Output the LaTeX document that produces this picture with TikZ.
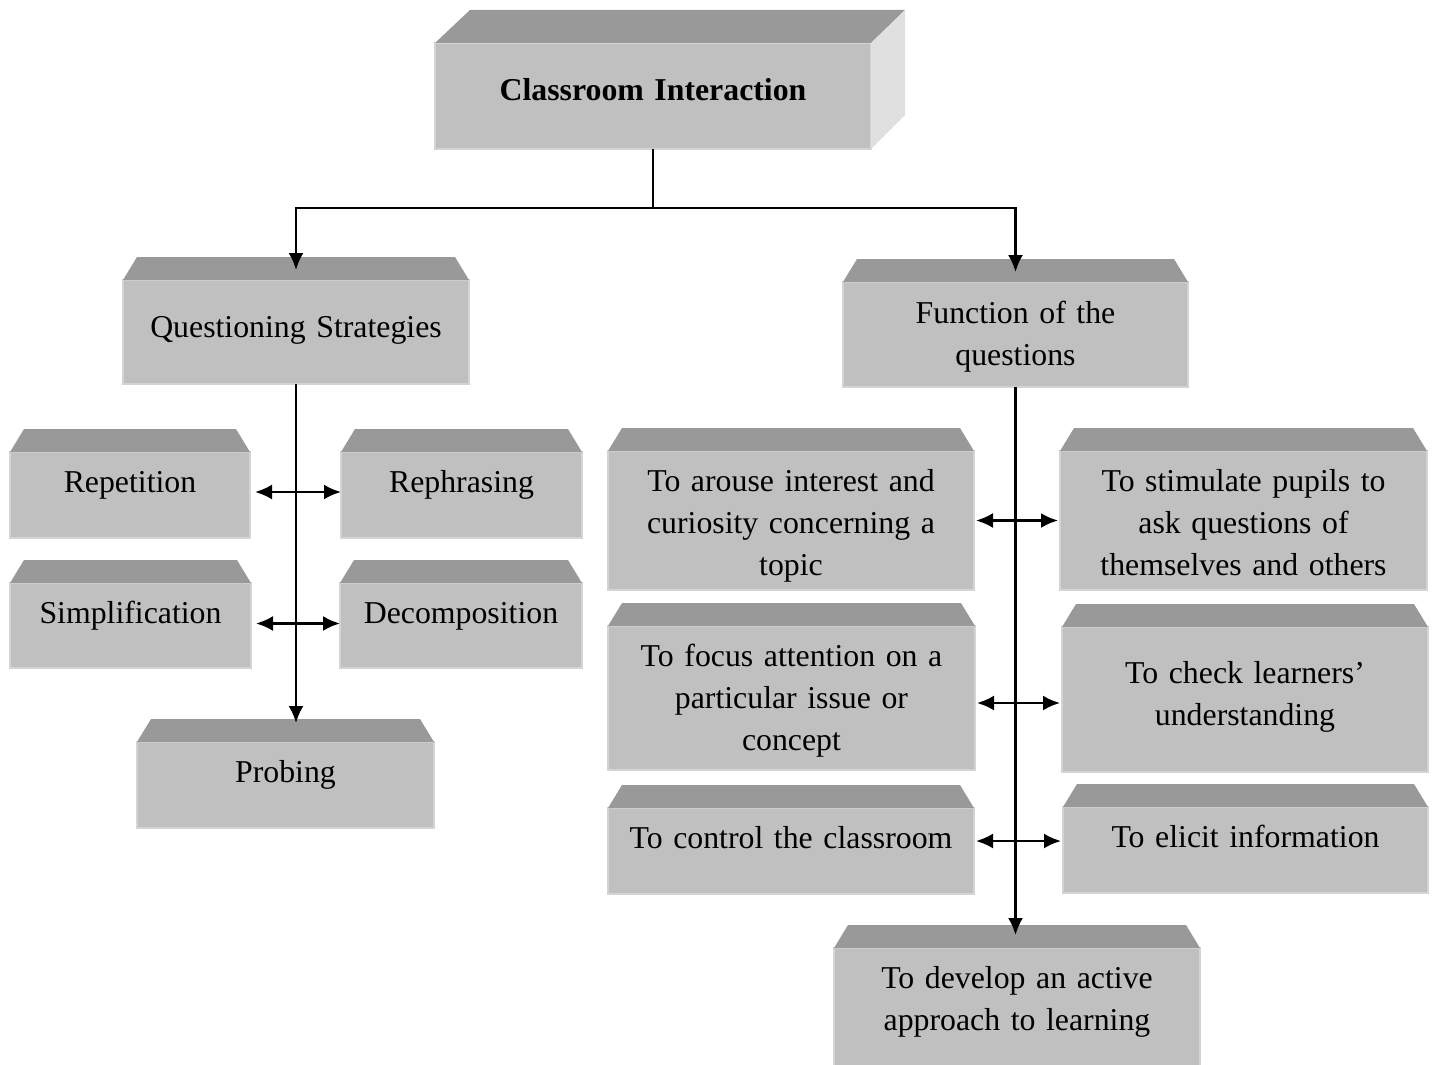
\documentclass[tikz,border=0pt]{standalone}
\usepackage{fontspec}
\setmainfont{Liberation Serif}
\usepackage{tikz}
\usetikzlibrary{arrows.meta}

\definecolor{facegrey}{HTML}{C0C0C0}
\definecolor{bevelgrey}{HTML}{999999}
\definecolor{sidegrey}{HTML}{E0E0E0}
\definecolor{rimgrey}{HTML}{D4D4D4}

\tikzset{
  block/.style={rectangle, anchor=north, fill=facegrey, draw=rimgrey, line width=1.5pt,
    inner sep=0pt, outer sep=0pt, align=center, text height=40.5pt,
    font=\fontsize{31.8}{42}\selectfont},
  link/.style={line width=2.4pt, black},
}
% sloped top face above a block
\newcommand{\bevel}[1]{\fill[bevelgrey] (#1.north west) -- ([shift={(14,-23)}]#1.north west)
  -- ([shift={(-14,-23)}]#1.north east) -- (#1.north east) -- cycle;}

\begin{document}
\begin{tikzpicture}[x=1pt, y=-1pt, >={Latex[length=17pt,width=15pt]}]
\useasboundingbox (0,0) rectangle (1435,1065);

\node[block, font=\fontsize{31.8}{42}\selectfont\bfseries, text width=436pt, text height=57.5pt, text depth=48.5pt] (ci) at (653,43) {Classroom Interaction};
\fill[bevelgrey] (ci.north west) -- ([shift={(35,-33)}]ci.north west) -- ([shift={(34,-33)}]ci.north east) -- (ci.north east) -- cycle;% top face
\fill[sidegrey] (ci.north east) -- ([shift={(34,-33)}]ci.north east) -- ([shift={(34,-34)}]ci.south east) -- (ci.south east) -- cycle;% side face

\node[block, text width=346pt, text height=57.5pt, text depth=46.5pt] (qs) at (296,280) {Questioning Strategies};
\node[block, text width=345pt, text height=41.5pt, text depth=63.5pt] (fq) at (1015.5,282) {Function of the\\questions};

% left branch
\node[block, text width=240pt, text depth=45.5pt] (rep) at (130,452) {Repetition};
\node[block, text width=241pt, text depth=45.5pt] (reph) at (461.5,452) {Rephrasing};
\node[block, text width=241pt, text depth=44.5pt] (simp) at (130.5,583) {Simplification};
\node[block, text width=242pt, text depth=44.5pt] (dec) at (461,583) {Decomposition};
\node[block, text width=297pt, text depth=45.5pt] (pr) at (285.5,742) {Probing};

% right branch
\node[block, text width=366pt, text depth=98.5pt] (aro) at (791,451) {To arouse interest and\\curiosity concerning a\\topic};
\node[block, text width=367pt, text depth=98.5pt] (sti) at (1243.5,451) {To stimulate pupils to\\ask questions of\\themselves and others};
\node[block, text width=367pt, text depth=103.5pt] (foc) at (791.5,626) {To focus attention on a\\particular issue or\\concept};
\node[block, text width=366pt, text height=56.5pt, text depth=88.5pt] (chk) at (1245,627) {To check learners’\\understanding};
\node[block, text width=366pt, text depth=45.5pt] (ctl) at (791,808) {To control the classroom};
\node[block, text width=365pt, text depth=45.5pt] (eli) at (1245.5,807) {To elicit information};
\node[block, text width=366pt, text depth=91.5pt] (dev) at (1017,948) {To develop an active\\approach to learning};

\foreach \n in {qs,fq,rep,reph,simp,dec,pr,aro,sti,foc,chk,ctl,eli,dev} {\bevel{\n}}

\coordinate (split) at (653,208);
\draw[link] (ci.south) -- (split);
\draw[link,->] (split) -| ([yshift=10pt]qs.north);
\draw[link,->] (split) -| ([yshift=10pt]fq.north);

\draw[link,->] (qs.south) -- ([yshift=19pt]qs.south |- pr.north);% left trunk
\draw[link,<->,shorten <=5pt] ([yshift=3pt]rep.east) -- ([yshift=3pt]rep.east -| reph.west);
\draw[link,<->,shorten <=5pt] ([yshift=2pt]simp.east) -- ([yshift=2pt]simp.east -| dec.west);

\draw[link,->] (fq.south) -- ([yshift=13pt]fq.south |- dev.north);% right trunk
\draw[link,<->,shorten <=2pt,shorten >=2pt] (aro.east) -- (aro.east -| sti.west);
\draw[link,<->,shorten <=2pt,shorten >=2pt] ([yshift=-5pt]foc.east) -- ([yshift=-5pt]foc.east -| chk.west);
\draw[link,<->,shorten <=2pt,shorten >=2pt] ([yshift=10pt]ctl.east) -- ([yshift=10pt]ctl.east -| eli.west);
\end{tikzpicture}
\end{document}
